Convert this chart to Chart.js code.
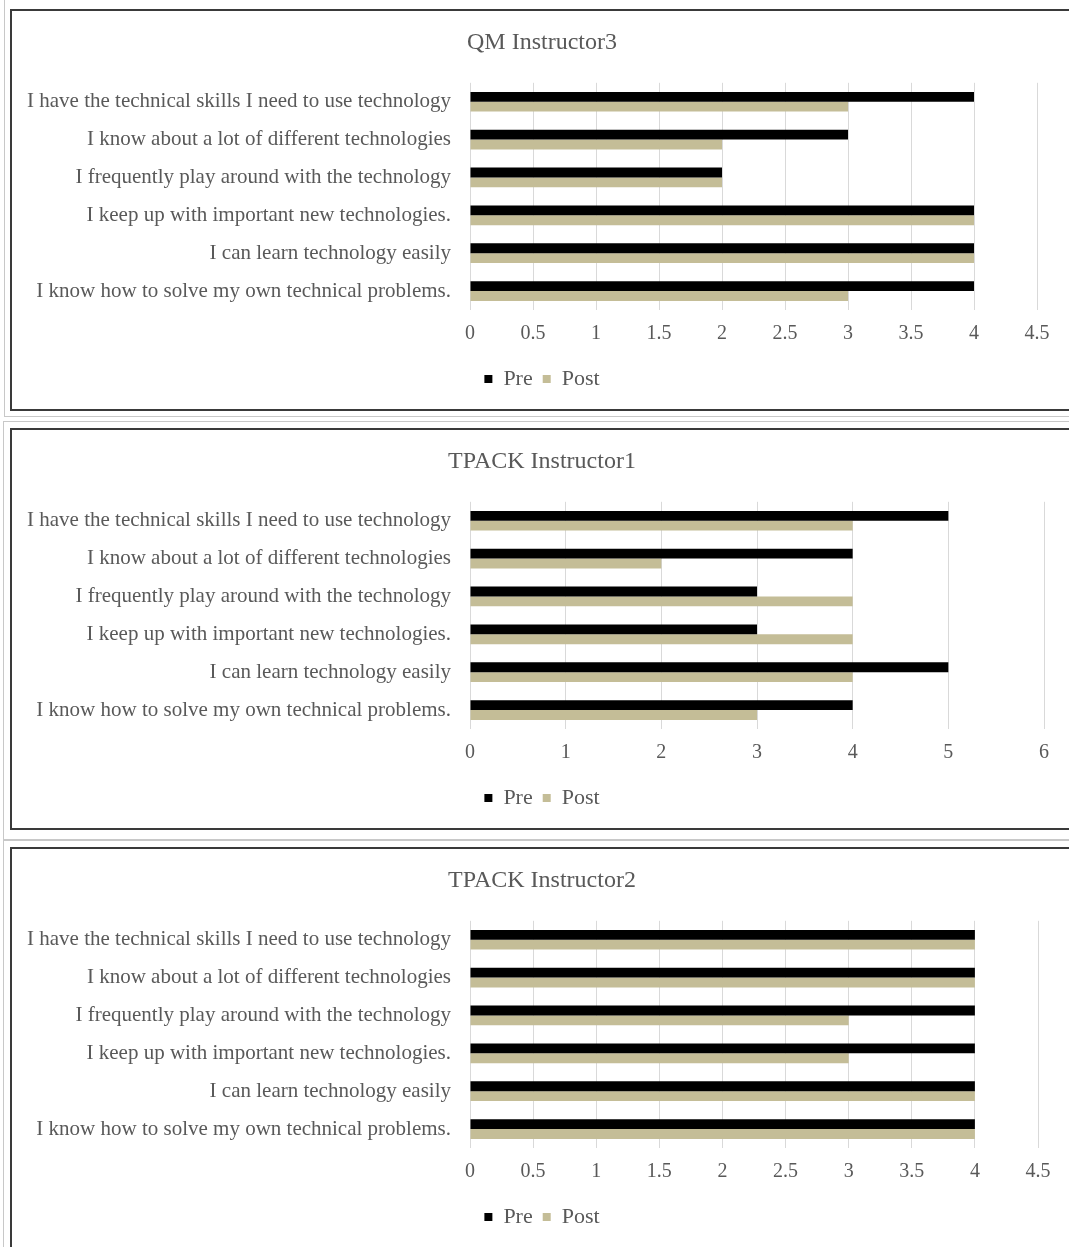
<!DOCTYPE html>
<html>
<head>
<meta charset="utf-8">
<script src="https://cdn.jsdelivr.net/npm/chart.js@4/dist/chart.umd.min.js"></script>
<style>
  html, body { margin: 0; padding: 0; background: #fff; overflow: hidden; }
  body { width: 1069px; height: 1247px; position: relative; }
  .frame { position: absolute; border: 1px solid #c8c8c8; }
  .panel { position: absolute; left: 10px; width: 1060px; height: 398px; border: 2px solid #3a3a3a; background: #fff; }
  .panel canvas { display: block; }
</style>
</head>
<body>
<div class="frame" style="left:4px; top:-2px; width:1080px; height:417px;"></div>
<div class="frame" style="left:3px; top:421px; width:1080px; height:417px;"></div>
<div class="frame" style="left:3px; top:840px; width:1080px; height:420px;"></div>
<div class="panel" style="top:9px;"><canvas id="qm3" width="1060" height="398"></canvas></div>
<div class="panel" style="top:428px;"><canvas id="tp1" width="1060" height="398"></canvas></div>
<div class="panel" style="top:847px;"><canvas id="tp2" width="1060" height="398"></canvas></div>
<script>
// Categories (top to bottom)
const categories = [
  'I have the technical skills I need to use technology',
  'I know about a lot of different technologies',
  'I frequently play around with the technology',
  'I keep up with important new technologies.',
  'I can learn technology easily',
  'I know how to solve my own technical problems.'
];
const seriesNames = ['Pre', 'Post'];

// QM Instructor3
const qm3Pre  = [4, 3, 2, 4, 4, 4];
const qm3Post = [3, 2, 2, 4, 4, 3];
// TPACK Instructor1
const tp1Pre  = [5, 4, 3, 3, 5, 4];
const tp1Post = [4, 2, 4, 4, 4, 3];
// TPACK Instructor2
const tp2Pre  = [4, 4, 4, 4, 4, 4];
const tp2Post = [4, 4, 3, 3, 4, 4];

// Axis ranges
const qm3Axis = { max: 4.5, step: 0.5 };
const tp1Axis = { max: 6, step: 1 };
const tp2Axis = { max: 4.5, step: 0.5 };

const textColor = '#595959';
const fontFamily = '"Liberation Serif", "Times New Roman", serif';

const makeChart = (id, title, pre, post, axis, gapRight) => {
  const ctx = document.getElementById(id).getContext('2d');
  return new Chart(ctx, {
    type: 'bar',
    data: {
      labels: categories,
      datasets: [
        { label: seriesNames[0], data: pre, backgroundColor: '#000000' },
        { label: seriesNames[1], data: post, backgroundColor: '#C4BD97' }
      ]
    },
    options: {
      indexAxis: 'y',
      responsive: false,
      animation: false,
      categoryPercentage: 0.52,
      barPercentage: 1.0,
      layout: { padding: { left: 0, right: 0, top: 0, bottom: 9 } },
      scales: {
        x: {
          min: 0,
          max: axis.max,
          ticks: {
            stepSize: axis.step,
            color: textColor,
            padding: 12,
            font: { family: fontFamily, size: 20 },
            maxRotation: 0,
            callback: (v) => String(v)
          },
          grid: { color: '#D9D9D9', lineWidth: 1, drawTicks: false },
          border: { display: false }
        },
        y: {
          ticks: {
            color: textColor,
            padding: 19,
            font: { family: fontFamily, size: 21 }
          },
          grid: { display: false, drawTicks: false },
          border: { display: false },
          afterFit: (scale) => { scale.width = 458; }
        },
        // empty spacer on the right so the title/legend stay centred on the panel
        gap: {
          type: 'linear',
          position: 'right',
          ticks: { display: false },
          grid: { display: false, drawTicks: false },
          border: { display: false },
          afterFit: (scale) => { scale.width = gapRight; }
        }
      },
      plugins: {
        title: {
          display: true,
          text: title,
          color: textColor,
          font: { family: fontFamily, size: 24, weight: 'normal' },
          padding: { top: 17, bottom: 26 }
        },
        legend: {
          position: 'bottom',
          labels: {
            color: textColor,
            boxWidth: 8,
            boxHeight: 8,
            padding: 10,
            font: { family: fontFamily, size: 22 }
          }
        },
        tooltip: { enabled: false }
      }
    }
  });
};

makeChart('qm3', 'QM Instructor3', qm3Pre, qm3Post, qm3Axis, 35);
makeChart('tp1', 'TPACK Instructor1', tp1Pre, tp1Post, tp1Axis, 28);
makeChart('tp2', 'TPACK Instructor2', tp2Pre, tp2Post, tp2Axis, 34);
</script>
</body>
</html>
